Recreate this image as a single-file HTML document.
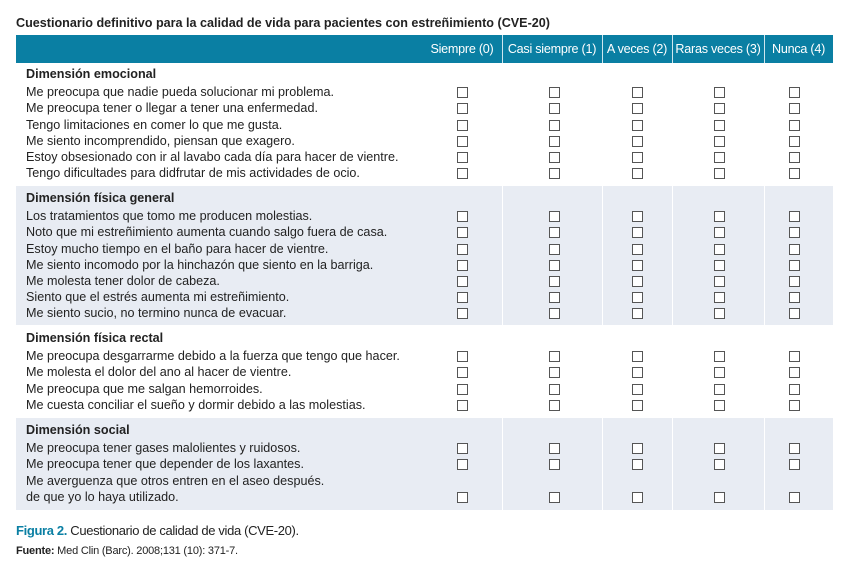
<!DOCTYPE html>
<html><head><meta charset="utf-8">
<style>
body{margin:0;width:856px;height:579px;background:#fff;font-family:"Liberation Sans",sans-serif;color:#222;position:relative;overflow:hidden}
.a{position:absolute;white-space:nowrap}
.t{font-size:12.6px;line-height:16px}
.h{font-weight:bold}
.cb{position:absolute;width:9px;height:9px;border:1px solid #555;background:#fff;box-sizing:content-box}
.bg{position:absolute;background:#e8ecf3;left:16px;width:817px}
.sep{position:absolute;width:1px;background:#fff}
.hd{position:absolute;left:16px;top:35px;width:817px;height:28px;background:#0a7fa3}
.hc{position:absolute;top:35px;height:28px;line-height:28px;color:#fff;font-size:12.6px;letter-spacing:-0.25px;text-align:center}
.hsep{position:absolute;top:35px;height:28px;width:1px;background:#cfe6ee}
</style></head><body>
<div class="a h" style="left:16px;top:16px;font-size:12.6px">Cuestionario definitivo para la calidad de vida para pacientes con estreñimiento (CVE-20)</div>
<div class="hd"></div>
<div id="root"></div>
<div class="a" style="left:16px;top:523px;font-size:13px;letter-spacing:-0.35px"><span style="color:#0a7fa3;font-weight:bold">Figura 2.</span> Cuestionario de calidad de vida (CVE-20).</div>
<div class="a" style="left:16px;top:545px;font-size:11px;letter-spacing:-0.2px"><b>Fuente:</b> Med Clin (Barc). 2008;131 (10): 371-7.</div>
<script>
const columns=["Siempre (0)","Casi siempre (1)","A veces (2)","Raras veces (3)","Nunca (4)"];
const colBounds=[422,502,602,672,764,833];
const boxX=[462,554,637,719,794];
const sections=[
 {title:"Dimensión emocional",top:63,bottom:183,shaded:false,headY:66,rows:[
  "Me preocupa que nadie pueda solucionar mi problema.",
  "Me preocupa tener o llegar a tener una enfermedad.",
  "Tengo limitaciones en comer lo que me gusta.",
  "Me siento incomprendido, piensan que exagero.",
  "Estoy obsesionado con ir al lavabo cada día para hacer de vientre.",
  "Tengo dificultades para didfrutar de mis actividades de ocio."]},
 {title:"Dimensión física general",top:186,bottom:325,shaded:true,headY:190,rows:[
  "Los tratamientos que tomo me producen molestias.",
  "Noto que mi estreñimiento aumenta cuando salgo fuera de casa.",
  "Estoy mucho tiempo en el baño para hacer de vientre.",
  "Me siento incomodo por la hinchazón que siento en la barriga.",
  "Me molesta tener dolor de cabeza.",
  "Siento que el estrés aumenta mi estreñimiento.",
  "Me siento sucio, no termino nunca de evacuar."]},
 {title:"Dimensión física rectal",top:325,bottom:418,shaded:false,headY:330,rows:[
  "Me preocupa desgarrarme debido a la fuerza que tengo que hacer.",
  "Me molesta el dolor del ano al hacer de vientre.",
  "Me preocupa que me salgan hemorroides.",
  "Me cuesta conciliar el sueño y dormir debido a las molestias."]},
 {title:"Dimensión social",top:418,bottom:510,shaded:true,headY:422,rows:[
  "Me preocupa tener gases malolientes y ruidosos.",
  "Me preocupa tener que depender de los laxantes.",
  "Me averguenza que otros entren en el aseo después.\nde que yo lo haya utilizado."]}
];
const root=document.getElementById('root');
function mk(cls,style,text){const d=document.createElement('div');d.className=cls;d.setAttribute('style',style);if(text!==undefined)d.textContent=text;root.appendChild(d);return d;}
columns.forEach((c,i)=>{
 const el=mk('hc',`left:${colBounds[i]}px;width:${colBounds[i+1]-colBounds[i]}px`,c);
 
 
 if(i>0){const s=mk('hsep',`left:${colBounds[i]}px`);
  
  }
});
const rowH=16.2;
sections.forEach((sec,si)=>{
 if(sec.shaded){
  const b=mk('bg',`top:${sec.top}px;height:${sec.bottom-sec.top}px`);
  
  
  for(let i=1;i<5;i++){const s=mk('sep',`left:${colBounds[i]}px;top:${sec.top}px;height:${sec.bottom-sec.top}px`);
   
   }
 }
 const h=mk('a t h',`left:26px;top:${sec.headY}px`,sec.title);
 
 
 let y=sec.headY+rowH+2;
 sec.rows.forEach(r=>{
  const lines=r.split('\n');
  lines.forEach((ln,li)=>{
   const t=mk('a t',`left:26px;top:${y}px`,ln);
   
   
   if(li<lines.length-1)y+=rowH;
  });
  boxX.forEach((bx,ci)=>{
   const c=mk('cb',`left:${bx-5}px;top:${y+3}px`);
   
   
  });
  y+=rowH;
 });
});
</script>
</body></html>
